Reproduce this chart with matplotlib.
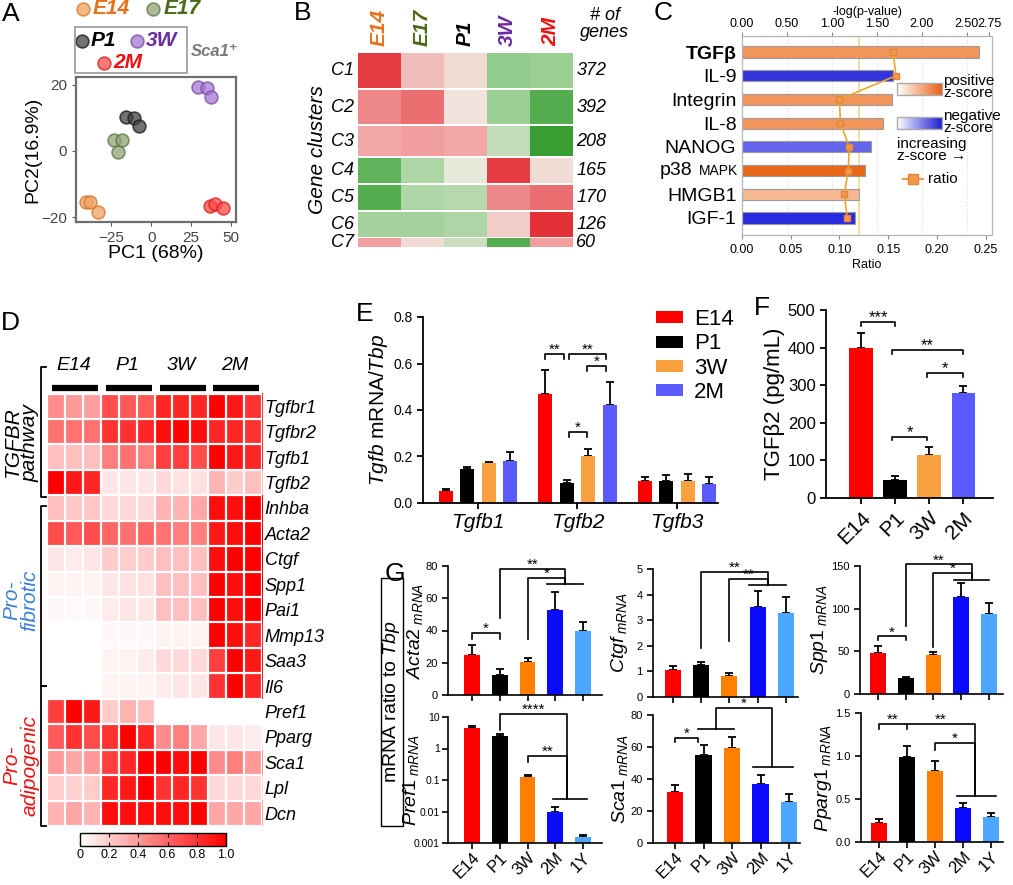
import numpy as np
import matplotlib
matplotlib.use('Agg')
import matplotlib.pyplot as plt
from matplotlib.colors import LinearSegmentedColormap
from matplotlib.patches import Rectangle

plt.rcParams['font.family'] = ['Liberation Sans', 'DejaVu Sans']
plt.rcParams['mathtext.fontset'] = 'custom'
plt.rcParams['mathtext.rm'] = 'Liberation Sans'
plt.rcParams['mathtext.it'] = 'Liberation Sans:italic'
plt.rcParams['mathtext.bf'] = 'Liberation Sans:bold'

W, H = 1013, 885

# ---------------- data ----------------
# A: PCA of Sca1+ cells
pca_groups = ['E14', 'E17', 'P1', '3W', '2M']
pca_pc1 = [[-41, -38, -33], [-23.5, -18, -21], [-16, -10.5, -7.5], [29, 35, 37.5], [37, 40, 45]]
pca_pc2 = [[-15.3, -15.3, -18.6], [3.3, 3.3, -0.3], [10.2, 9.9, 7.5], [19.5, 19.2, 16.2], [-16.8, -15.9, -17.4]]
pca_fill = ['#f2a262', '#8fa474', '#444444', '#a47ad2', '#ff4a4a']
pca_edge = ['#d4752a', '#5f7444', '#1a1a1a', '#7a4aa8', '#d42020']
pca_text = ['#e8701a', '#4a6a1a', 'black', '#6a2aa0', '#ee1111']

# B: gene clusters (mean z-score per stage)
clusters = ['C1', 'C2', 'C3', 'C4', 'C5', 'C6', 'C7']
cluster_genes = [372, 392, 208, 165, 170, 126, 60]
b_stages = ['E14', 'E17', 'P1', '3W', '2M']
cluster_z = [[0.9, 0.3, 0.1, -0.5, -0.45],
             [0.6, 0.7, 0.05, -0.45, -0.8],
             [0.45, 0.5, 0.45, -0.25, -0.95],
             [-0.75, -0.35, -0.05, 0.9, 0.1],
             [-0.8, -0.35, -0.3, 0.6, 0.7],
             [-0.4, -0.4, -0.35, 0.2, 0.95],
             [0.5, 0.1, -0.2, -0.8, 0.5]]

# C: IPA pathways
ipa_paths = ['TGFβ', 'IL-9', 'Integrin', 'IL-8', 'NANOG', 'p38 MAPK', 'HMGB1', 'IGF-1']
ipa_logp = [2.64, 1.68, 1.67, 1.57, 1.44, 1.37, 1.30, 1.26]
ipa_ratio = [0.155, 0.158, 0.100, 0.101, 0.110, 0.109, 0.105, 0.108]
ipa_colors = ['#f2955a', '#3535e0', '#f2955a', '#f2955a', '#6464ea', '#e8681a', '#f6b890', '#2a2ae0']

# D: TGFBR / fibrotic / adipogenic genes (normalized)
d_genes = ['Tgfbr1', 'Tgfbr2', 'Tgfb1', 'Tgfb2', 'Inhba', 'Acta2', 'Ctgf', 'Spp1', 'Pai1',
           'Mmp13', 'Saa3', 'Il6', 'Pref1', 'Pparg', 'Sca1', 'Lpl', 'Dcn']
d_stages = ['E14', 'P1', '3W', '2M']
d_values = [[0.45, 0.40, 0.38, 0.70, 0.65, 0.65, 0.85, 0.85, 0.85, 1.00, 0.90, 0.80],
            [0.55, 0.55, 0.55, 0.80, 0.80, 0.85, 0.95, 1.00, 0.95, 0.85, 0.85, 0.80],
            [0.25, 0.25, 0.25, 0.50, 0.55, 0.50, 0.75, 0.75, 0.70, 1.00, 0.90, 0.85],
            [1.00, 0.90, 0.85, 0.10, 0.10, 0.10, 0.15, 0.12, 0.12, 0.30, 0.20, 0.25],
            [0.25, 0.22, 0.22, 0.15, 0.15, 0.15, 0.30, 0.30, 0.35, 0.95, 0.95, 1.00],
            [0.70, 0.65, 0.70, 0.60, 0.55, 0.60, 0.55, 0.50, 0.50, 0.90, 0.95, 1.00],
            [0.10, 0.08, 0.10, 0.20, 0.20, 0.20, 0.25, 0.25, 0.25, 0.95, 1.00, 1.00],
            [0.05, 0.05, 0.05, 0.10, 0.12, 0.12, 0.25, 0.25, 0.25, 1.00, 0.95, 1.00],
            [0.03, 0.02, 0.03, 0.08, 0.10, 0.10, 0.25, 0.25, 0.25, 1.00, 0.95, 1.00],
            [0.00, 0.00, 0.00, 0.03, 0.03, 0.03, 0.05, 0.05, 0.05, 1.00, 0.95, 0.85],
            [0.00, 0.00, 0.00, 0.05, 0.05, 0.08, 0.15, 0.15, 0.15, 0.75, 1.00, 0.90],
            [0.00, 0.00, 0.00, 0.05, 0.05, 0.05, 0.08, 0.10, 0.10, 0.80, 1.00, 0.85],
            [0.75, 1.00, 0.90, 0.20, 0.30, 0.25, 0.00, 0.00, 0.00, 0.00, 0.00, 0.00],
            [0.65, 0.80, 0.70, 0.80, 1.00, 0.85, 0.45, 0.50, 0.35, 0.10, 0.10, 0.08],
            [0.40, 0.35, 0.40, 0.75, 0.85, 1.00, 1.00, 0.95, 1.00, 0.45, 0.50, 0.40],
            [0.20, 0.18, 0.20, 0.85, 0.90, 1.00, 0.80, 0.85, 0.80, 0.15, 0.15, 0.15],
            [0.30, 0.35, 0.30, 0.95, 0.95, 0.95, 0.95, 0.95, 1.00, 0.35, 0.35, 0.35]]

# E: Tgfb mRNA / Tbp
e_genes = ['Tgfb1', 'Tgfb2', 'Tgfb3']
e_stages = ['E14', 'P1', '3W', '2M']
e_mean = [[0.052, 0.148, 0.172, 0.180], [0.470, 0.086, 0.204, 0.420], [0.094, 0.096, 0.094, 0.082]]
e_err = [[0.010, 0.005, 0.006, 0.040], [0.100, 0.013, 0.030, 0.100], [0.018, 0.025, 0.030, 0.030]]
e_colors = ['#ff0000', '#000000', '#f9a040', '#5a5aff']

# F: TGFb2 protein
f_stages = ['E14', 'P1', '3W', '2M']
f_mean = [399, 48, 114, 279]
f_err = [40, 10, 22, 19]

# G: qPCR, ratio to Tbp
g_stages = ['E14', 'P1', '3W', '2M', '1Y']
g_colors = ['#ff0000', '#000000', '#ff8000', '#0a0aff', '#4da6ff']
acta2_mean = [24.8, 12.4, 20.5, 53.0, 40.0]
acta2_err = [6.2, 3.6, 2.2, 11.0, 5.0]
ctgf_mean = [1.05, 1.24, 0.82, 3.50, 3.27]
ctgf_err = [0.15, 0.13, 0.12, 0.65, 0.63]
spp1_mean = [48.0, 18.8, 45.7, 113.7, 93.8]
spp1_err = [8.0, 1.5, 3.0, 16.0, 13.0]
pref1_mean = [4.5, 2.5, 0.125, 0.010, 0.00155]
pref1_err = [0.7, 0.4, 0.02, 0.0034, 0.00025]
sca1_mean = [31.9, 55.0, 59.4, 36.9, 25.6]
sca1_err = [4.1, 6.3, 6.6, 5.6, 5.0]
pparg1_mean = [0.22, 0.99, 0.83, 0.40, 0.29]
pparg1_err = [0.05, 0.13, 0.11, 0.05, 0.05]

# ---------------- figure ----------------
fig = plt.figure(figsize=(W / 100, H / 100), dpi=100)


def px_axes(x0, y0, x1, y1, **kw):
    return fig.add_axes([x0 / W, 1 - y1 / H, (x1 - x0) / W, (y1 - y0) / H], **kw)


def prism(ax, lw=1.3, fs=9):
    for s in ['top', 'right']:
        ax.spines[s].set_visible(False)
    for s in ['left', 'bottom']:
        ax.spines[s].set_linewidth(lw)
    ax.tick_params(direction='out', width=lw, length=4, labelsize=fs)


def bars(ax, means, errs, colors, width, x=None):
    if x is None:
        x = np.arange(len(means))
    ax.bar(x, means, width, color=colors, zorder=2)
    ax.errorbar(x, means, yerr=[np.zeros(len(errs)), errs], fmt='none', ecolor='black',
                elinewidth=1.3, capsize=3, capthick=1.3, zorder=1)
    return x


def bracket(ax, x1, x2, y, h, s, fs=11, lw=1.2):
    ax.plot([x1, x1, x2, x2], [y - h, y, y, y - h], color='black', lw=lw, clip_on=False)
    ax.text((x1 + x2) / 2, y, s, ha='center', va='baseline', fontsize=fs, clip_on=False)


def long_bracket(ax, x1, y1, ytop, x2, y2, s, fs=11, lw=1.2):
    ax.plot([x1, x1, x2, x2], [y1, ytop, ytop, y2], color='black', lw=lw, clip_on=False)
    ax.text((x1 + x2) / 2, ytop, s, ha='center', va='baseline', fontsize=fs, clip_on=False)


def group_line(ax, x1, x2, y, lw=1.2):
    ax.plot([x1, x2], [y, y], color='black', lw=lw, clip_on=False)


# ----- A -----
ax_a = px_axes(76, 77, 236, 222)
for i, g in enumerate(pca_groups):
    ax_a.scatter(pca_pc1[i], pca_pc2[i], s=85, color=pca_fill[i], edgecolor=pca_edge[i],
                 alpha=0.75, linewidth=1.2, zorder=3)
ax_a.set_xlim(-47, 53)
ax_a.set_ylim(-21.5, 22.4)
ax_a.set_xticks([-25, 0, 25, 50])
ax_a.set_yticks([-20, 0, 20])
for s in ax_a.spines.values():
    s.set_color('#6e6e6e')
    s.set_linewidth(1.6)
ax_a.tick_params(colors='#555555', labelcolor='#444444', labelsize=11, length=3)
ax_a.set_xlabel('PC1 (68%)', fontsize=14, labelpad=0)
ax_a.set_ylabel('PC2(16.9%)', fontsize=14, labelpad=0)

# ----- B -----
ax_b = px_axes(358, 53, 572, 247)
b_cmap = LinearSegmentedColormap.from_list('rg', ['#2f9a2a', '#92cc8c', '#f1ebe3', '#f1a0a0', '#e3262e'])
b_rows = [(0, 35), (37, 71), (73, 103), (105, 130), (132, 157), (159, 184), (185, 194)]
for i, c in enumerate(clusters):
    y0, y1 = b_rows[i]
    row = np.repeat(np.array(cluster_z[i])[None, :], 3, axis=1)
    ax_b.imshow(row, cmap=b_cmap, vmin=-1, vmax=1, aspect='auto', extent=[0, 15, y1, y0],
                interpolation='nearest')
    ax_b.text(-0.3, (y0 + y1) / 2, c, ha='right', va='center', fontsize=13, style='italic')
    ax_b.text(15.3, (y0 + y1) / 2, str(cluster_genes[i]), ha='left', va='center',
              fontsize=13, style='italic')
for j, st in enumerate(b_stages):
    ax_b.text(3 * j + 1.5, -7, st, rotation=90, ha='center', va='bottom', fontsize=15,
              fontweight='bold', style='italic', color=pca_text[j])
ax_b.text(17.3, -12, '# of\ngenes', ha='center', va='bottom', fontsize=13, style='italic',
          linespacing=1.0)
ax_b.set_xlim(0, 15)
ax_b.set_ylim(194, 0)
ax_b.axis('off')
fig.text(317 / W, 1 - 150 / H, 'Gene clusters', rotation=90, ha='center', va='center',
         fontsize=15, style='italic')

# ----- C -----
ax_c = px_axes(742, 36, 992, 235)
ax_r = ax_c.twiny()
yy = np.arange(len(ipa_paths))
ax_c.barh(yy, ipa_logp, height=0.47, color=ipa_colors, edgecolor='#9a9a9a', linewidth=0.8, zorder=2)
ax_c.set_xlim(0, 2.78)
ax_c.set_ylim(7.72, -0.675)
ax_c.xaxis.tick_top()
ax_c.xaxis.set_label_position('top')
ax_c.set_xticks([0, 0.5, 1.0, 1.5, 2.0, 2.5, 2.75])
ax_c.set_xticklabels(['0.00', '0.50', '1.00', '1.50', '2.00', '2.50', '2.75'])
ax_c.set_xlabel('-log(p-value)', fontsize=9, labelpad=2)
for xv in [0.5, 1.0, 1.5, 2.0, 2.5]:
    ax_c.axvline(xv, color='#dddddd', lw=0.8, ls=':', zorder=0)
ax_c.axvline(1.3, color='#f0d890', lw=1.2, zorder=1)
ax_c.set_yticks(yy)
labels_c = [p if p != 'p38 MAPK' else '' for p in ipa_paths]
ax_c.set_yticklabels(labels_c, fontsize=14)
ax_c.get_yticklabels()[0].set_fontweight('bold')
ax_c.tick_params(axis='y', length=0, pad=4)
ax_c.tick_params(axis='x', labelsize=9, length=3, pad=1.5, colors='#888888', labelcolor='black')
for s in ax_c.spines.values():
    s.set_color('#b5b5b5')
ax_r.plot(ipa_ratio, yy, color='#e8a830', lw=1.2, marker='s', ms=5, mfc='#f39a48', mec='#e8843a', zorder=3)
ax_r.set_xlim(0, 0.2565)
ax_r.xaxis.tick_bottom()
ax_r.xaxis.set_label_position('bottom')
ax_r.set_xticks([0, 0.05, 0.10, 0.15, 0.20, 0.25])
ax_r.set_xticklabels(['0.00', '0.05', '0.10', '0.15', '0.20', '0.25'])
ax_r.set_xlabel('Ratio', fontsize=9, labelpad=2)
ax_r.tick_params(axis='x', labelsize=9, length=3, colors='#888888', labelcolor='black')
for s in ax_r.spines.values():
    s.set_color('#b5b5b5')
p38_idx = ipa_paths.index('p38 MAPK')
ax_c.text(-0.015, p38_idx, 'MAPK', transform=ax_c.get_yaxis_transform(), ha='right', va='center', fontsize=10)
ax_c.text(-0.2, p38_idx, 'p38', transform=ax_c.get_yaxis_transform(), ha='right', va='center', fontsize=14)

# ----- D -----
ax_d = px_axes(47, 366, 262, 826)
d_cmap = LinearSegmentedColormap.from_list('wr', ['#ffffff', '#ff0000'])
im_d = ax_d.imshow(np.array(d_values), cmap=d_cmap, vmin=0, vmax=1, aspect='auto', interpolation='nearest')
nr, nc = len(d_genes), len(d_values[0])
for k in range(nr + 1):
    ax_d.axhline(k - 0.5, color='white', lw=1.6)
for k in range(nc + 1):
    ax_d.axvline(k - 0.5, color='white', lw=1.6)
ax_d.set_xticks([])
ax_d.yaxis.tick_right()
ax_d.set_yticks(np.arange(nr))
ax_d.set_yticklabels(d_genes, fontsize=13, style='italic')
ax_d.tick_params(axis='y', length=0, pad=2)
for s in ax_d.spines.values():
    s.set_visible(False)
for g, st in enumerate(d_stages):
    ax_d.text(3 * g + 1, -1.6, st, ha='center', va='center', fontsize=14, style='italic', clip_on=False)
    ax_d.plot([3 * g - 0.22, 3 * g + 2.35], [-0.72, -0.72], color='black', lw=4.5,
              solid_capstyle='butt', clip_on=False)
cax = px_axes(80, 833, 226, 846)
cb = fig.colorbar(im_d, cax=cax, orientation='horizontal')
cb.set_ticks([0, 0.2, 0.4, 0.6, 0.8, 1.0])
cb.set_ticklabels(['0', '0.2', '0.4', '0.6', '0.8', '1.0'])
cax.tick_params(labelsize=9, direction='in', top=True, length=3, pad=2)
cb.outline.set_linewidth(1)

# ----- E -----
ax_e = px_axes(423, 317, 718, 503)
prism(ax_e, fs=10)
offs = np.array([-1.5, -0.5, 0.5, 1.5]) * 0.215
mean_e = np.array(e_mean)
err_e = np.array(e_err)
for j, st in enumerate(e_stages):
    xs = np.arange(len(e_genes)) + offs[j]
    ax_e.bar(xs, mean_e[:, j], 0.14, color=e_colors[j], label=st, zorder=2)
    ax_e.errorbar(xs, mean_e[:, j], yerr=[np.zeros(len(xs)), err_e[:, j]], fmt='none', ecolor='black',
                  elinewidth=1.3, capsize=3, capthick=1.3, zorder=1)
ax_e.set_xlim(-0.55, 2.41)
ax_e.set_ylim(0, 0.8)
ax_e.set_yticks([0, 0.2, 0.4, 0.6, 0.8])
ax_e.set_yticklabels(['0.0', '0.2', '0.4', '0.6', '0.8'])
ax_e.set_xticks(np.arange(len(e_genes)))
ax_e.set_xticklabels(e_genes, fontsize=15, style='italic')
ax_e.set_ylabel(r'$\mathit{Tgfb}$ mRNA/$\mathit{Tbp}$', fontsize=15, labelpad=2)
bx = 1 + offs
bracket(ax_e, bx[0], bx[1] - 0.03, 0.641, 0.022, '**')
bracket(ax_e, bx[1] + 0.02, bx[3] - 0.04, 0.641, 0.022, '**')
bracket(ax_e, bx[2] - 0.01, bx[3] - 0.04, 0.589, 0.021, '*')
bracket(ax_e, bx[1] + 0.02, bx[2] - 0.01, 0.305, 0.021, '*')
ax_e.legend(loc='upper left', bbox_to_anchor=(645 / W, 1 - 298 / H), bbox_transform=fig.transFigure,
            frameon=False, fontsize=16, handlelength=1.2, handleheight=0.45, labelspacing=0.15,
            handletextpad=0.5, borderpad=0)

# ----- F -----
ax_f = px_axes(826, 310, 993, 498)
prism(ax_f, fs=12)
xf = bars(ax_f, f_mean, f_err, e_colors, 0.68)
ax_f.set_xlim(-1.03, 3.88)
ax_f.set_ylim(0, 500)
ax_f.set_yticks([0, 100, 200, 300, 400, 500])
ax_f.set_xticks(xf)
ax_f.set_xticklabels(f_stages, rotation=45, ha='right', rotation_mode='anchor', fontsize=15)
ax_f.set_ylabel('TGFβ2 (pg/mL)', fontsize=16, labelpad=2)
bracket(ax_f, 0, 1, 468, 11, '***', fs=12)
bracket(ax_f, 0.9, 3.0, 393, 10, '**', fs=12)
bracket(ax_f, 1.95, 3.0, 332, 10, '*', fs=12)
bracket(ax_f, 0.9, 1.95, 162, 8, '*', fs=12)

# ----- G -----
g_ax = {}
g_boxes = {'acta2': (448, 566, 602, 695), 'ctgf': (653, 569, 798, 697), 'spp1': (860, 566, 1003, 694),
           'pref1': (448, 717, 602, 843), 'sca1': (653, 715, 800, 843), 'pparg1': (861, 713, 1003, 842)}
g_data = {'acta2': (acta2_mean, acta2_err, 'Acta2', 80, [0, 20, 40, 60, 80]),
          'ctgf': (ctgf_mean, ctgf_err, 'Ctgf', 5, [0, 1, 2, 3, 4, 5]),
          'spp1': (spp1_mean, spp1_err, 'Spp1', 150, [0, 50, 100, 150]),
          'pref1': (pref1_mean, pref1_err, 'Pref1', 10, None),
          'sca1': (sca1_mean, sca1_err, 'Sca1', 80, [0, 20, 40, 60, 80]),
          'pparg1': (pparg1_mean, pparg1_err, 'Pparg1', 1.5, [0, 0.5, 1.0, 1.5])}
g_xlim = {'acta2': (-0.86, 4.68), 'ctgf': (-0.71, 4.43), 'spp1': (-0.64, 4.5),
          'pref1': (-0.86, 4.68), 'sca1': (-0.77, 4.38), 'pparg1': (-0.64, 4.43)}
# right edge (px) of each rotated y label
g_label_x = {'acta2': 425, 'ctgf': 630, 'spp1': 830, 'pref1': 421, 'sca1': 630, 'pparg1': 834}
for key, box in g_boxes.items():
    ax = px_axes(*box)
    prism(ax, lw=1.2, fs=8)
    m, e, name, top, ticks = g_data[key]
    if key == 'pref1':
        ax.set_yscale('log')
    xg = bars(ax, m, e, g_colors, 0.57)
    ax.set_xlim(*g_xlim[key])
    ax.set_xticks(xg)
    if key == 'pref1':
        ax.set_ylim(0.001, 10)
        ax.set_yticks([0.001, 0.01, 0.1, 1, 10])
        ax.set_yticklabels(['0.001', '0.01', '0.1', '1', '10'])
        ax.minorticks_off()
        ax.tick_params(axis='y', labelsize=7.5, pad=2)
    else:
        ax.set_ylim(0, top)
        ax.set_yticks(ticks)
        if key == 'pparg1':
            ax.set_yticklabels(['0.0', '0.5', '1.0', '1.5'])
    if key in ('pref1', 'sca1', 'pparg1'):
        ax.set_xticklabels(g_stages, rotation=45, ha='right', rotation_mode='anchor', fontsize=12)
        ax.tick_params(axis='x', pad=1)
    else:
        ax.set_xticklabels([])
    ax.set_ylabel(r'$%s_{\ mRNA}$' % name, fontsize=14)
    ax.yaxis.set_label_coords((g_label_x[key] - box[0]) / (box[2] - box[0]), 0.5)
    g_ax[key] = ax

ax = g_ax['acta2']
bracket(ax, 0, 1, 38.5, 3.8, '*')
group_line(ax, 2.71, 4.0, 69)
long_bracket(ax, 1, 48, 78, 3.36, 69, '**')
long_bracket(ax, 2, 34.7, 72.6, 3.36, 69, '*')

ax = g_ax['ctgf']
group_line(ax, 2.7, 4.0, 4.37)
long_bracket(ax, 1, 1.9, 4.9, 3.36, 4.37, '**')
long_bracket(ax, 2, 2.2, 4.6, 3.36, 4.37, '**')

ax = g_ax['spp1']
bracket(ax, 0, 1, 67.4, 4.4, '*')
group_line(ax, 2.75, 4.0, 133.6)
long_bracket(ax, 1, 80, 152, 3.39, 133.6, '**')
long_bracket(ax, 2, 55, 142, 3.39, 133.6, '*')

ax = g_ax['pref1']
group_line(ax, 2.9, 4.14, 0.025)
long_bracket(ax, 1, 3.9, 12.4, 3.43, 0.025, '****')
long_bracket(ax, 2, 0.37, 0.58, 3.43, 0.025, '**')

ax = g_ax['sca1']
bracket(ax, 0, 0.82, 65.6, 2.4, '*')
group_line(ax, 0.82, 2.07, 71.2)
group_line(ax, 2.75, 4.14, 47.5)
long_bracket(ax, 1.43, 71.2, 84.4, 3.39, 47.5, '*')

ax = g_ax['pparg1']
bracket(ax, 0, 1, 1.37, 0.06, '**')
group_line(ax, 2.79, 4.18, 0.53)
long_bracket(ax, 1, 1.37, 1.37, 3.43, 0.53, '**')
long_bracket(ax, 2, 1.07, 1.15, 3.43, 0.53, '*')

# ---------------- overlay (legends, brackets, panel letters) ----------------
ov = fig.add_axes([0, 0, 1, 1], zorder=10)

# A legend
leg_a = [(83, 9, 93), (153, 9, 164), (82, 41, 91), (137, 41, 146), (104, 63, 113)]
for i, g in enumerate(pca_groups):
    cx, cy, tx = leg_a[i]
    ov.scatter([cx], [cy], s=85, color=pca_fill[i], edgecolor=pca_edge[i], alpha=0.75, linewidth=1.2)
    ov.text(tx, cy, g, ha='left', va='center', fontsize=15, fontweight='bold', style='italic',
            color=pca_text[i])
ov.add_patch(Rectangle((75, 27), 112, 46, fill=False, ec='#a0a0a0', lw=1.3))
ov.text(191, 52, 'Sca1\u207a', ha='left', va='center', fontsize=12, fontweight='bold', style='italic',
        color='#7a7a7a')

# C legend
pos_cmap = LinearSegmentedColormap.from_list('po', ['#ffffff', '#f6b08a', '#e8601a'])
neg_cmap = LinearSegmentedColormap.from_list('ne', ['#ffffff', '#8a8aee', '#2020d0'])
grad = np.linspace(0, 1, 60)[None, :]
ov.imshow(grad, cmap=pos_cmap, extent=[897, 942, 95, 83], aspect='auto')
ov.imshow(grad, cmap=neg_cmap, extent=[897, 942, 129, 117], aspect='auto')
ov.add_patch(Rectangle((897, 83), 45, 12, fill=False, ec='#aaaaaa', lw=1))
ov.add_patch(Rectangle((897, 117), 45, 12, fill=False, ec='#aaaaaa', lw=1))
ov.text(943, 87, 'positive\nz-score', ha='left', va='center', fontsize=11, linespacing=0.85)
ov.text(943, 122, 'negative\nz-score', ha='left', va='center', fontsize=11, linespacing=0.85)
ov.text(897, 150, 'increasing\nz-score \u2192', ha='left', va='center', fontsize=11, linespacing=0.85)
ov.plot([903, 923], [179, 179], color='#f39a48', lw=1.5)
ov.plot([913], [179], marker='s', ms=7, mfc='#f39a48', mec='#e8843a')
ov.text(928, 179, 'ratio', ha='left', va='center', fontsize=11)

# D brackets and labels
for (ya, yb) in [(367, 497), (506, 686), (686, 826)]:
    ov.plot([46, 41, 41, 46], [ya, ya, yb, yb], color='black', lw=1.3)
ov.text(21, 443, 'TGFBR\npathway', rotation=90, ha='center', va='center', fontsize=15,
        style='italic', linespacing=0.9)
ov.text(21, 600, 'Pro-\nfibrotic', rotation=90, ha='center', va='center', fontsize=15,
        style='italic', color='#3a80d8', linespacing=0.9)
ov.text(21, 765, 'Pro-\nadipogenic', rotation=90, ha='center', va='center', fontsize=15,
        style='italic', color='#ee1111', linespacing=0.9)

# G boxed label
ov.add_patch(Rectangle((381, 578), 22, 248, fill=False, ec='black', lw=1))
ov.text(392, 702, r'mRNA ratio to $\mathit{Tbp}$', rotation=90, ha='center', va='center', fontsize=14)

# panel letters
for lt, lx, ly in [('A', 2, 14), ('B', 294, 13), ('C', 654, 13), ('D', 1, 323), ('E', 356, 314),
                   ('F', 754, 308), ('G', 385, 574)]:
    ov.text(lx, ly, lt, ha='left', va='center', fontsize=19)

ov.set_xlim(0, W)
ov.set_ylim(H, 0)
ov.axis('off')

fig.savefig('out.png', dpi=100)
